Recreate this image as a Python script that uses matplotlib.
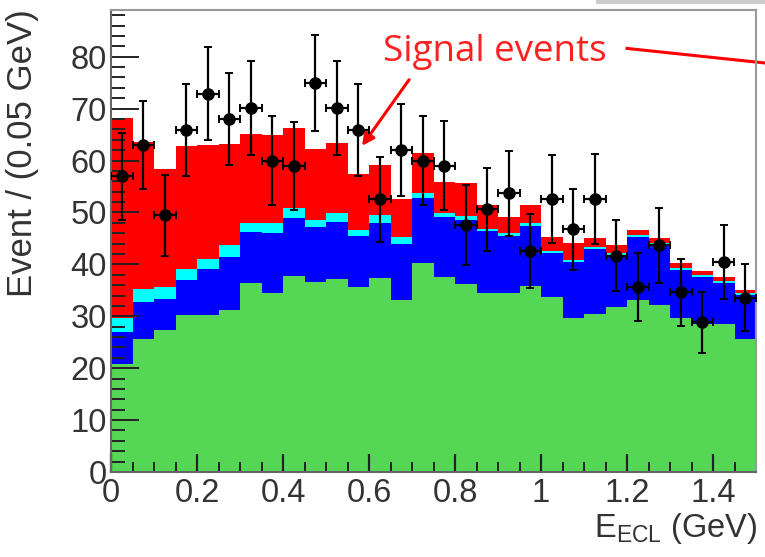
import numpy as np
import matplotlib
matplotlib.use("Agg")
import matplotlib.pyplot as plt
from matplotlib.ticker import MultipleLocator
from matplotlib.lines import Line2D

# ---- data ----
bin_edges = [round(0.05 * i, 2) for i in range(31)]
green_top = [20.9, 25.7, 27.3, 30.2, 30.2, 31.2, 36.4, 34.4, 37.7, 36.6,
             37.1, 35.7, 37.3, 33.1, 40.3, 37.6, 36.3, 34.4, 34.5, 35.8,
             33.7, 29.6, 30.5, 31.8, 33.1, 32.1, 29.6, 28.6, 28.6, 25.7]
blue_top = [27.0, 32.8, 33.4, 37.0, 39.2, 41.5, 46.3, 46.0, 49.0, 47.2,
            48.2, 45.4, 48.0, 44.0, 52.7, 49.2, 48.5, 46.5, 45.4, 47.4,
            42.1, 40.5, 42.9, 41.8, 45.2, 43.7, 38.9, 37.6, 36.4, 34.1]
cyan_top = [29.6, 35.3, 35.7, 39.2, 41.1, 43.7, 48.0, 47.9, 50.8, 48.5,
            49.8, 46.6, 49.5, 45.3, 53.8, 49.8, 49.3, 46.9, 46.0, 47.9,
            42.6, 40.9, 43.3, 42.2, 45.6, 44.1, 39.3, 38.0, 36.8, 34.5]
red_top = [68.1, 63.6, 58.3, 62.8, 63.0, 63.2, 65.2, 64.9, 66.2, 62.3,
           63.3, 57.5, 59.1, 52.5, 61.5, 55.9, 55.7, 51.4, 49.2, 51.4,
           45.3, 44.2, 45.0, 43.7, 46.7, 45.0, 40.2, 38.8, 37.6, 35.0]
data_vals = [57.0, 63.0, 49.5, 65.9, 72.9, 68.0, 70.1, 60.0, 59.0, 74.9,
             70.1, 65.9, 52.5, 62.0, 60.0, 59.0, 47.6, 50.6, 53.7, 42.6,
             52.6, 46.8, 52.6, 41.7, 35.6, 43.7, 34.6, 28.8, 40.5, 33.6]
data_err = [8.4, 8.5, 7.8, 8.8, 9.0, 8.8, 9.0, 8.6, 8.5, 9.3,
            9.0, 8.8, 8.2, 8.8, 8.6, 8.6, 7.7, 8.0, 8.2, 7.1,
            8.4, 7.8, 8.6, 6.9, 6.6, 7.2, 6.4, 5.9, 7.1, 6.4]

x_ticks = [0, 0.2, 0.4, 0.6, 0.8, 1.0, 1.2, 1.4]
x_tick_labels = ["0", "0.2", "0.4", "0.6", "0.8", "1", "1.2", "1.4"]
y_ticks = [0, 10, 20, 30, 40, 50, 60, 70, 80]

# ---- figure ----
plt.rcParams['font.family'] = ['Liberation Sans', 'DejaVu Sans']
fig = plt.figure(figsize=(7.65, 5.57), dpi=100)
ax = fig.add_axes([111 / 765, (557 - 472) / 557, (756 - 111) / 765, (472 - 10) / 557])

edges = np.array(bin_edges)
ax.stairs(red_top, edges, baseline=cyan_top, fill=True, color='#ff0000', lw=0)
ax.stairs(cyan_top, edges, baseline=blue_top, fill=True, color='#00ffff', lw=0)
ax.stairs(blue_top, edges, baseline=green_top, fill=True, color='#0000ff', lw=0)
ax.stairs(green_top, edges, baseline=0, fill=True, color='#55d655', lw=0)

centers = (edges[:-1] + edges[1:]) / 2
ax.errorbar(centers, data_vals, yerr=data_err, xerr=0.025, fmt='o', color='black',
            ms=8, elinewidth=1.6, capsize=3, capthick=1.4, zorder=5)

ax.set_xlim(0, 1.5)
ax.set_ylim(0, 89)
ax.set_xticks(x_ticks)
ax.set_xticklabels(x_tick_labels)
ax.set_yticks(y_ticks)
ax.xaxis.set_minor_locator(MultipleLocator(0.05))
ax.yaxis.set_minor_locator(MultipleLocator(2))
ax.tick_params(axis='both', which='both', direction='in', colors='#222222',
               labelcolor='#333333', labelsize=23.5, top=False, right=False)
ax.tick_params(axis='x', which='major', length=13, width=1.6, pad=4)
ax.tick_params(axis='x', which='minor', length=7, width=1.4)
ax.tick_params(axis='y', which='major', length=20, width=1.4, pad=3)
ax.tick_params(axis='y', which='minor', length=10, width=1.4)
for s in ['top', 'right']:
    ax.spines[s].set_color('#999999')
    ax.spines[s].set_linewidth(1.5)
for s in ['left', 'bottom']:
    ax.spines[s].set_color('#666666')
    ax.spines[s].set_linewidth(1.5)

fig.text(23 / 765, 1 - 9 / 557, 'Event / (0.05 GeV)', rotation=90, fontsize=25,
         color='#333333', ha='center', va='top')
fig.text(758 / 765, 1 - 537 / 557, r'E$_{\mathregular{ECL}}$ (GeV)', fontsize=23.5,
         color='#333333', ha='right', va='baseline')

# annotation
ax.text(0.633, 81.0, 'Signal events', color='#ff2020', fontsize=26.5,
        family=['Open Sans', 'DejaVu Sans'], ha='left', va='center')
ax.annotate('', xy=(0.58, 62.4), xytext=(0.697, 76.0),
            arrowprops=dict(arrowstyle='-|>', color='#ff0000', lw=2.2,
                            mutation_scale=18))
ax.add_line(Line2D([1.2, 1.52], [81.6, 78.8], color='#ff0000', lw=2.2,
                   clip_on=False))

# slide frame hint at top right
fig.add_artist(Line2D([598 / 765, 1.0], [1 - 2 / 557, 1 - 2 / 557],
                      color='#cccccc', lw=3, transform=fig.transFigure))

fig.savefig('out.png', dpi=100)
